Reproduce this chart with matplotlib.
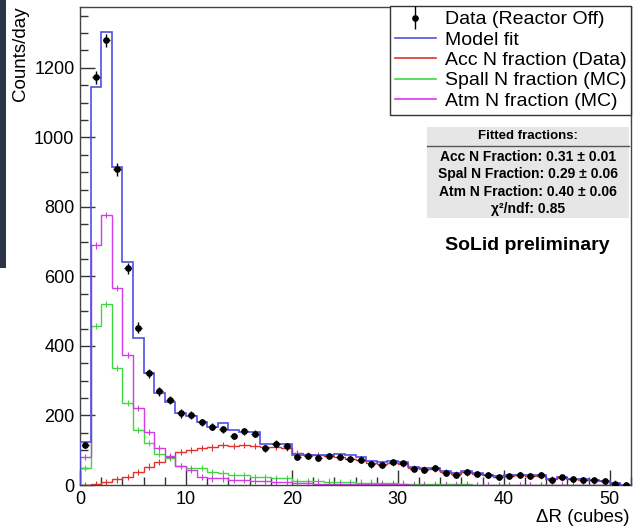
import numpy as np
import matplotlib.pyplot as plt
from matplotlib.lines import Line2D
from matplotlib.patches import Rectangle
from matplotlib.ticker import MultipleLocator
from matplotlib.legend_handler import HandlerErrorbar

plt.rcParams['font.family'] = ['Liberation Sans', 'DejaVu Sans']

# counts/day per 1-cube bin of Delta R (0..52)
data = [115, 1173, 1279, 908, 623, 453, 321, 269, 244, 206,
        201, 180, 168, 160, 141, 154, 147, 106, 119, 112,
        81, 84, 78, 83, 81, 74, 73, 59, 58, 66,
        62, 47, 42, 49, 34, 28, 38, 33, 28, 22,
        25, 30, 26, 28, 13, 22, 16, 14, 13, 11,
        4, 0]
data_err = [10, 19, 19, 19, 17, 16, 12, 12, 12, 12,
            11, 10, 10, 10, 10, 10, 10, 10, 10, 10,
            9, 9, 9, 9, 9, 9, 9, 9, 9, 9,
            8, 8, 8, 8, 8, 8, 8, 8, 8, 8,
            8, 8, 8, 8, 8, 8, 8, 8, 8, 8,
            6, 0]
model_fit = [125, 1146, 1302, 916, 641, 424, 321, 266, 240, 206,
             199, 180, 168, 177, 158, 153, 153, 118, 118, 118,
             86, 86, 86, 86, 90, 86, 81, 70, 67, 70,
             66, 53, 50, 50, 40, 35, 39, 34, 30, 26,
             28, 30, 28, 28, 17, 22, 18, 16, 14, 12,
             5, 1]
acc_n = [0, 3, 8, 16, 24, 38, 53, 66, 80, 94,
         100, 106, 108, 115, 113, 115, 112, 108, 110, 106,
         91, 86, 86, 84, 80, 76, 72, 62, 60, 63,
         60, 48, 45, 46, 36, 32, 36, 32, 28, 24,
         26, 28, 26, 27, 16, 21, 17, 15, 13, 11,
         5, 1]
spall_n = [49, 457, 520, 336, 236, 158, 120, 90, 77, 55,
           48, 48, 36, 35, 29, 29, 24, 24, 19, 19,
           12, 12, 11, 10, 9, 8, 7, 7, 6, 5,
           4, 3, 3, 2, 2, 2, 2, 1, 1, 1,
           1, 1, 1, 1, 0, 0, 0, 0, 0, 0,
           0, 0]
atm_n = [81, 689, 777, 566, 375, 221, 153, 106, 84, 55,
         43, 22, 19, 19, 14, 14, 11, 11, 10, 10,
         5, 5, 4, 4, 3, 3, 3, 2, 2, 2,
         2, 1, 1, 1, 1, 1, 1, 1, 0, 0,
         0, 0, 0, 0, 0, 0, 0, 0, 0, 0,
         0, 0]

labels = ['Data (Reactor Off)', 'Model fit', 'Acc N fraction (Data)',
          'Spall N fraction (MC)', 'Atm N fraction (MC)']
fit_lines = ['Acc N Fraction: 0.31 \u00b1 0.01',
             'Spal N Fraction: 0.29 \u00b1 0.06',
             'Atm N Fraction: 0.40 \u00b1 0.06',
             '\u03c7\u00b2/ndf: 0.85']

c_fit, c_acc, c_spall, c_atm = '#5050e6', '#e2322c', '#40d840', '#d23ce6'

W, H = 635, 530


def fx(px):
    return px / W


def fy(py):
    return 1 - py / H


fig = plt.figure(figsize=(W / 100, H / 100), dpi=100)
fig.patches.append(Rectangle((0, fy(268)), fx(6), 268 / H, transform=fig.transFigure,
                             facecolor='#2b3447', edgecolor='none', zorder=0))

ax = fig.add_axes([fx(80), fy(485), fx(631) - fx(80), fy(7) - fy(485)])

edges = np.arange(len(data) + 1)
centers = edges[:-1] + 0.5

ax.stairs(model_fit, edges, color=c_fit, lw=1.2, zorder=3)
for vals, col in [(acc_n, c_acc), (spall_n, c_spall), (atm_n, c_atm)]:
    ax.stairs(vals, edges, color=col, lw=1.0, zorder=2)
    ax.errorbar(centers, vals, yerr=9, fmt='none', ecolor=col, elinewidth=0.8, zorder=2)

eb = ax.errorbar(centers, data, yerr=data_err, xerr=0.35, fmt='o', color='black',
                 ms=3.8, elinewidth=1.0, capsize=0, zorder=4)

ax.set_xlim(0, 52)
ax.set_ylim(0, 1375)
ax.xaxis.set_major_locator(MultipleLocator(10))
ax.xaxis.set_minor_locator(MultipleLocator(2))
ax.yaxis.set_major_locator(MultipleLocator(200))
ax.yaxis.set_minor_locator(MultipleLocator(50))
ax.tick_params(which='both', direction='in', top=False, right=False, width=1, color='#333333')
ax.tick_params(which='major', length=11, labelsize=13, pad=4)
ax.tick_params(which='minor', length=5.5)
for s in ax.spines.values():
    s.set_color('#444444')
    s.set_linewidth(1)

fig.text(fx(21), fy(6), 'Counts/day', rotation=90, ha='center', va='top', fontsize=13.5)
fig.text(fx(629), fy(517), '\u0394R (cubes)', ha='right', va='center', fontsize=13.5)

handles = [eb,
           Line2D([], [], color=c_fit, lw=1.2),
           Line2D([], [], color=c_acc, lw=1.2),
           Line2D([], [], color=c_spall, lw=1.2),
           Line2D([], [], color=c_atm, lw=1.2)]
leg = ax.legend(handles, labels, loc='upper right', bbox_to_anchor=(fx(631), fy(6)),
                bbox_transform=fig.transFigure, fontsize=14, frameon=True, fancybox=False,
                edgecolor='#333333', framealpha=1, borderaxespad=0, borderpad=0.25,
                labelspacing=0.14, handlelength=2.1, handletextpad=0.45,
                handler_map={type(eb): HandlerErrorbar(xerr_size=0.0, yerr_size=0.6)})
leg.get_frame().set_linewidth(1)

# fit results box
fig.patches.append(Rectangle((fx(427), fy(218)), fx(629) - fx(427), (218 - 127) / H,
                             transform=fig.transFigure, facecolor='#e6e6e6',
                             edgecolor='none', zorder=5))
fig.lines.append(Line2D([fx(427), fx(629)], [fy(146), fy(146)], transform=fig.transFigure,
                        color='#555555', lw=1, zorder=6))
fig.text(fx(528), fy(136), 'Fitted fractions:', ha='center', va='center',
         fontsize=9.5, fontweight='bold', zorder=7)
for line, ypx in zip(fit_lines, [157, 174, 192, 209]):
    fig.text(fx(528), fy(ypx), line, ha='center', va='center', fontsize=10,
             fontweight='bold', zorder=7)

fig.text(fx(527), fy(245), 'SoLid preliminary', ha='center', va='center',
         fontsize=14, fontweight='bold')

fig.savefig('out.png', dpi=100)
